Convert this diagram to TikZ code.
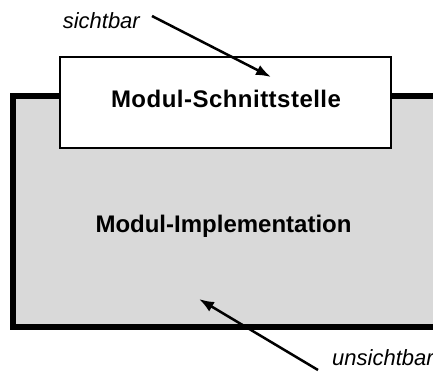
\documentclass[tikz,border=0pt]{standalone}
\usepackage{fontspec}
\setmainfont{Liberation Sans}
\usepackage{xcolor}
\usetikzlibrary{arrows.meta}

\begin{document}
\begin{tikzpicture}[
    x=1pt, y=-1pt,
    % Node styles
    implbox/.style={
        rectangle,
        draw=black,
        line width=6pt,
        fill=black!15,
        minimum width=437pt,
        minimum height=230pt
    },
    facebox/.style={
        rectangle,
        draw=black,
        line width=1.5pt,
        fill=white,
        minimum width=331pt,
        minimum height=91pt
    },
    boxlabel/.style={
        font=\fontsize{24}{28}\selectfont\bfseries,
        inner sep=0pt
    },
    note/.style={
        font=\fontsize{22}{26}\selectfont\itshape,
        inner sep=0pt
    },
    pointer/.style={
        -{Latex[length=15pt,width=11pt]},
        line width=2.5pt
    }
]
\useasboundingbox (0,0) rectangle (433,374);
\clip (0,0) rectangle (433,374);

% ===== Boxes =====

% Implementation (runs off the right edge)
\node[implbox] (impl) at (231.5, 211.5) {};
\node[boxlabel] (impltext) at (223.5, 226.5) {Modul-Implementation};

% Interface on top
\node[facebox] (face) at (225.5, 102.5) {};
\node[boxlabel] (facetext) at (226, 98.5)
    {\addfontfeatures{LetterSpace=2}Modul-Schnittstelle};

% ===== Notes and arrows =====

\node[note, anchor=east] (vis) at (140, 20.5) {sichtbar};
\coordinate (vistip) at (271, 77);
\draw[pointer] ([xshift=12pt,yshift=4.5pt]vis.east) -- (vistip);

\node[note, anchor=west] (invis) at (332, 357.5) {unsichtbar};
\coordinate (invistip) at (199, 299);
\draw[pointer] ([xshift=-14pt,yshift=-12.5pt]invis.west) -- (invistip);

\end{tikzpicture}
\end{document}
